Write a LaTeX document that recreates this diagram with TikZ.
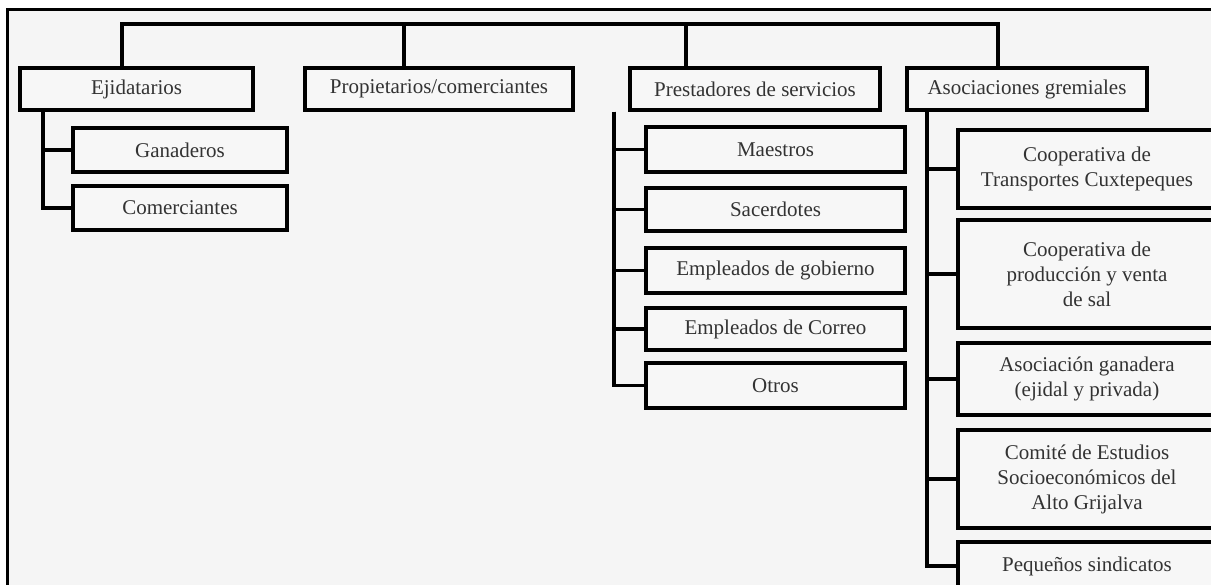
\documentclass[tikz,border=0pt]{standalone}
\usepackage{fontspec}
\setmainfont{Liberation Serif}

\tikzset{
  box/.style={draw,line width=4pt,fill=black!3,text=black!80,
    font=\fontsize{21}{25}\selectfont,align=center,inner sep=0pt},
  link/.style={line width=3.6pt,line join=miter},
}

\begin{document}
\begin{tikzpicture}[x=1pt,y=-1pt]
\useasboundingbox (0,0) rectangle (1211,585);
\clip (0,0) rectangle (1211,585);

% Frame
\draw[line width=3pt,fill=black!4] (7,10) rectangle (1240,620);

% First level
\node[box,minimum width=233,minimum height=42] (ejid) at (136.5,89) {Ejidatarios};
\node[box,minimum width=268,minimum height=42] (prop) at (439,89) {Propietarios/comerciantes};
\node[box,minimum width=250,minimum height=42] (prest) at (755,89) {Prestadores de servicios};
\node[box,minimum width=240,minimum height=42] (asoc) at (1027,89) {Asociaciones gremiales};

% Ejidatarios
\node[box,minimum width=214,minimum height=44] (gan) at (180,150) {Ganaderos};
\node[box,minimum width=214,minimum height=44] (com) at (180,208) {Comerciantes};

% Prestadores de servicios
\node[box,minimum width=259,minimum height=45] (maes) at (775.5,149.5) {Maestros};
\node[box,minimum width=259,minimum height=43] (sac) at (775.5,209.5) {Sacerdotes};
\node[box,minimum width=259,minimum height=45] (gob) at (775.5,270.5) {Empleados de gobierno};
\node[box,minimum width=259,minimum height=42] (cor) at (775.5,329) {Empleados de Correo};
\node[box,minimum width=259,minimum height=45] (otr) at (775.5,385.5) {Otros};

% Asociaciones gremiales
\node[box,minimum width=258,minimum height=78] (cct) at (1087,169) {Cooperativa de\\Transportes Cuxtepeques};
\node[box,minimum width=258,minimum height=108] (csal) at (1087,274) {Cooperativa de\\producción y venta\\de sal};
\node[box,minimum width=258,minimum height=72] (agan) at (1087,379) {Asociación ganadera\\(ejidal y privada)};
\node[box,minimum width=258,minimum height=98] (cesa) at (1087,479) {Comité de Estudios\\Socioeconómicos del\\Alto Grijalva};
\node[box,minimum width=258,minimum height=48] (psin) at (1087,566) {Pequeños sindicatos};

% Top bus
\coordinate (b1) at (122,24);
\coordinate (b2) at (404,24);
\coordinate (b3) at (686,24);
\coordinate (b4) at (998,24);
\draw[link] (ejid.north -| b1) -- (b1) -- (b4) -- (asoc.north -| b4);
\draw[link] (b2) -- (prop.north -| b2);
\draw[link] (b3) -- (prest.north -| b3);

% Trunks
\coordinate (t1) at (43,110);
\coordinate (t3) at (614,112);
\coordinate (t4) at (927,110);
\draw[link] (ejid.south -| t1) |- (gan.west);
\draw[link] (ejid.south -| t1) |- (com.west);
\foreach \n in {maes,sac,gob,cor,otr}
  \draw[link] (t3) |- (\n.west);
\foreach \n in {cct,csal,agan,cesa,psin}
  \draw[link] (asoc.south -| t4) |- (\n.west);
\end{tikzpicture}
\end{document}
